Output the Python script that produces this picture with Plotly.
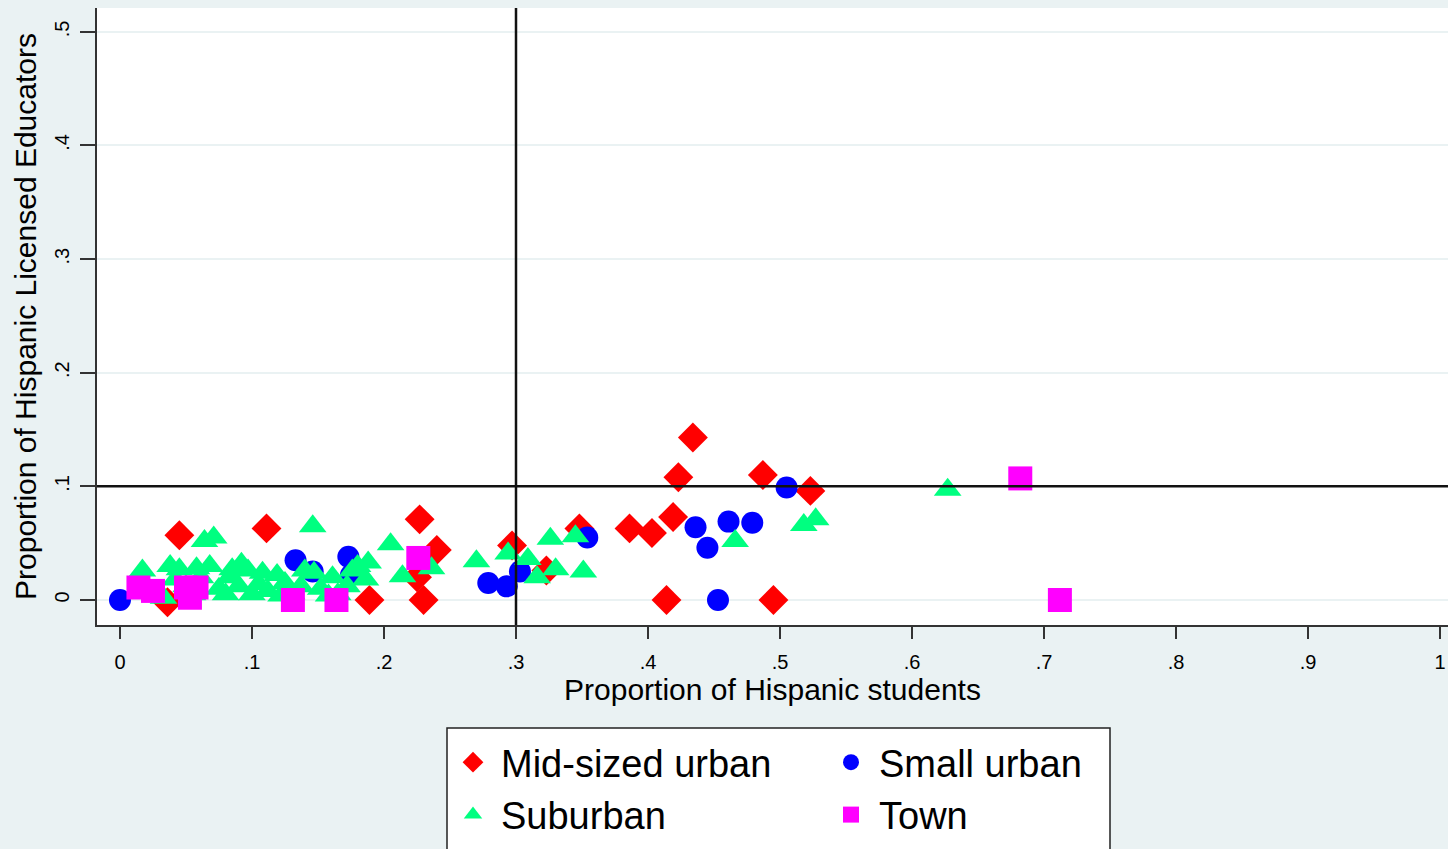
import plotly.graph_objects as go

# ---- data ----
mid_x = [0.045, 0.036, 0.111, 0.227, 0.189, 0.230, 0.225, 0.240, 0.297, 0.323,
         0.348, 0.386, 0.403, 0.419, 0.423, 0.434, 0.414, 0.487, 0.523, 0.495]
mid_y = [0.057, -0.002, 0.063, 0.071, 0.0, 0.0, 0.020, 0.044, 0.048, 0.026,
         0.063, 0.063, 0.059, 0.073, 0.108, 0.143, 0.0, 0.110, 0.096, 0.0]

small_x = [0.0, 0.133, 0.146, 0.173, 0.175, 0.279, 0.293, 0.303, 0.354, 0.436,
           0.445, 0.461, 0.479, 0.505, 0.453]
small_y = [0.0, 0.035, 0.025, 0.038, 0.022, 0.015, 0.012, 0.025, 0.055, 0.064,
           0.046, 0.069, 0.068, 0.099, 0.0]

sub_x = [0.017, 0.027, 0.033, 0.038, 0.045, 0.050, 0.055, 0.061, 0.064, 0.068,
         0.071, 0.075, 0.080, 0.085, 0.090, 0.092, 0.097, 0.100, 0.105, 0.112,
         0.119, 0.125, 0.130, 0.137, 0.146, 0.147, 0.152, 0.161, 0.165, 0.172,
         0.180, 0.186, 0.188, 0.205, 0.214, 0.236, 0.270, 0.294, 0.309, 0.316,
         0.326, 0.330, 0.345, 0.351, 0.466, 0.518, 0.527, 0.627,
         0.042, 0.058, 0.083, 0.108, 0.122, 0.140, 0.158, 0.176]
sub_y = [0.026, 0.008, 0.002, 0.030, 0.027, 0.012, 0.005, 0.020, 0.052, 0.030,
         0.055, 0.010, 0.005, 0.027, 0.012, 0.032, 0.026, 0.005, 0.014, 0.008,
         0.022, 0.015, 0.006, 0.012, 0.065, 0.024, 0.010, 0.020, 0.005, 0.012,
         0.030, 0.018, 0.033, 0.049, 0.021, 0.028, 0.034, 0.041, 0.036, 0.020,
         0.054, 0.027, 0.056, 0.025, 0.052, 0.066, 0.071, 0.097,
         0.018, 0.028, 0.020, 0.024, 0.004, 0.026, 0.004, 0.026]

town_x = [0.014, 0.025, 0.050, 0.058, 0.053, 0.131, 0.164, 0.226, 0.682, 0.712]
town_y = [0.011, 0.008, 0.011, 0.011, 0.002, 0.0, 0.0, 0.037, 0.107, 0.0]

x_ticks = [0, 0.1, 0.2, 0.3, 0.4, 0.5, 0.6, 0.7, 0.8, 0.9, 1.0]
x_labels = ["0", ".1", ".2", ".3", ".4", ".5", ".6", ".7", ".8", ".9", "1"]
y_ticks = [0, 0.1, 0.2, 0.3, 0.4, 0.5]
y_labels = ["0", ".1", ".2", ".3", ".4", ".5"]

x_ref = 0.3
y_ref = 0.1

FONT = "Liberation Sans, Arial, sans-serif"
BG = "#eaf2f3"

fig = go.Figure()
fig.add_trace(go.Scatter(x=mid_x, y=mid_y, mode="markers", name="Mid-sized urban",
                         marker=dict(symbol="diamond", size=23, color="#ff0000", line=dict(width=0)),
                         legend="legend"))
fig.add_trace(go.Scatter(x=small_x, y=small_y, mode="markers", name="Small urban",
                         marker=dict(symbol="circle", size=22, color="#0000ff", line=dict(width=0)),
                         legend="legend2"))
fig.add_trace(go.Scatter(x=sub_x, y=sub_y, mode="markers", name="Suburban",
                         marker=dict(symbol="triangle-up", size=24, color="#00ff80", line=dict(width=0)),
                         legend="legend"))
fig.add_trace(go.Scatter(x=town_x, y=town_y, mode="markers", name="Town",
                         marker=dict(symbol="square", size=24, color="#ff00ff", line=dict(width=0)),
                         legend="legend2"))

W, H = 1448, 849
L, R, T, B = 97, 0, 8, 224
pw, ph = W - L - R, H - T - B

def px_x(p):
    return (p - L) / pw

def px_y(p):
    return (H - B - p) / ph

fig.update_layout(
    width=W, height=H,
    margin=dict(l=L, r=R, t=T, b=B, autoexpand=False),
    paper_bgcolor=BG, plot_bgcolor="white",
    font=dict(family=FONT, color="#000000"),
    showlegend=True,
    xaxis=dict(
        range=[-0.0174, 1.006], tickvals=x_ticks, ticktext=x_labels,
        ticks="outside", ticklen=12, tickwidth=1.5, tickcolor="#333333",
        showline=True, linecolor="#333333", linewidth=2,
        showgrid=False, zeroline=False,
        tickfont=dict(size=20, family=FONT), ticklabelstandoff=6,
        title=dict(text="Proportion of Hispanic students", font=dict(size=30, family=FONT), standoff=0),
        automargin=False,
    ),
    yaxis=dict(
        range=[-0.022, 0.521], tickvals=y_ticks, ticktext=y_labels, tickangle=-90,
        ticks="outside", ticklen=15, tickwidth=1.5, tickcolor="#333333",
        showline=True, linecolor="#333333", linewidth=2,
        showgrid=True, gridcolor=BG, gridwidth=1.5, zeroline=False,
        tickfont=dict(size=20, family=FONT), ticklabelstandoff=3,
        title=dict(text="Proportion of Hispanic Licensed Educators", font=dict(size=30, family=FONT), standoff=6),
        automargin=False,
    ),
    legend=dict(x=px_x(445), y=px_y(731), xanchor="left", yanchor="top",
                orientation="v", bgcolor="rgba(0,0,0,0)", borderwidth=0,
                font=dict(size=38, family=FONT), itemsizing="trace", itemwidth=46),
    legend2=dict(x=px_x(823), y=px_y(731), xanchor="left", yanchor="top",
                 orientation="v", bgcolor="rgba(0,0,0,0)", borderwidth=0,
                 font=dict(size=38, family=FONT), itemsizing="trace", itemwidth=46),
    shapes=[
        dict(type="line", xref="x", yref="paper", x0=x_ref, x1=x_ref, y0=0, y1=1,
             line=dict(color="#111111", width=2.5)),
        dict(type="line", xref="paper", yref="y", x0=0, x1=1, y0=y_ref, y1=y_ref,
             line=dict(color="#111111", width=2.5)),
        dict(type="rect", xref="paper", yref="paper",
             x0=px_x(447), x1=px_x(1110), y0=px_y(870), y1=px_y(728),
             fillcolor="white", line=dict(color="#222222", width=1.5), layer="below"),
    ],
)

fig.write_html("out.html", config={"displayModeBar": False},
               post_script="document.body.style.margin='0';document.body.style.overflow='hidden';")
